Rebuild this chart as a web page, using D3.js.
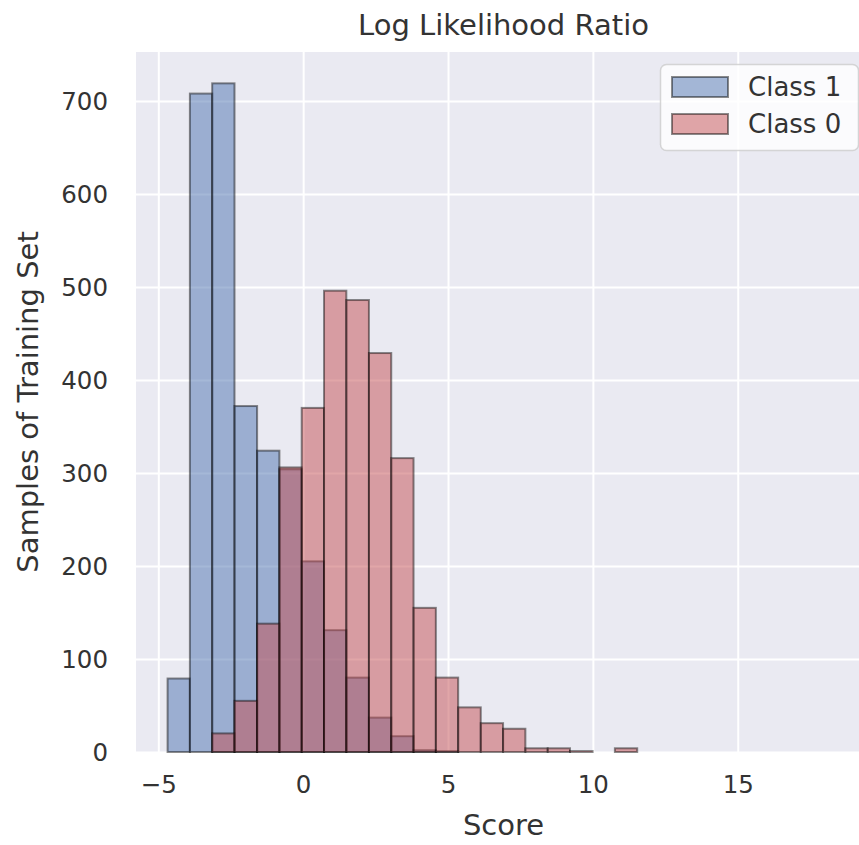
<!DOCTYPE html>
<html>
<head>
<meta charset="utf-8">
<script src="https://cdn.jsdelivr.net/npm/d3@7/dist/d3.min.js"></script>
<style>
  html, body { margin: 0; padding: 0; background: #ffffff; }
  svg { display: block; font-family: "DejaVu Sans", sans-serif; }
</style>
</head>
<body>
<svg id="chart" width="859" height="845"></svg>
<script>
// Histogram bin edges shared by both classes (score units)
const binEdges = [-4.68, -3.91, -3.14, -2.37, -1.59, -0.82, -0.05, 0.72, 1.49, 2.27,
                  3.04, 3.81, 4.58, 5.35, 6.13, 6.90, 7.67, 8.44, 9.21, 9.99, 10.76, 11.53];

// Sample counts per bin
const class1Counts = [79, 708, 719, 372, 324, 304, 205, 131, 80, 37, 17, 2, 1, 0, 0, 0, 0, 0, 0, 0, 0];
const class0Counts = [0, 0, 20, 55, 138, 306, 370, 496, 486, 429, 316, 155, 80, 48, 31, 25, 4, 4, 1, 0, 4];

const seriesNames = ["Class 1", "Class 0"];
const seriesColors = ["#4C72B0", "#C44E52"];

const xTicks = [-5, 0, 5, 10, 15];
const yTicks = [0, 100, 200, 300, 400, 500, 600, 700];

const xDomain = [-5.77, 19.6];
const yDomain = [0, 752.7];

const titleText = "Log Likelihood Ratio";
const xLabel = "Score";
const yLabel = "Samples of Training Set";

// Layout
const plot = { left: 136, right: 871, top: 52, bottom: 752 };
const textColor = "#333333";

const svg = d3.select("#chart");

const x = d3.scaleLinear().domain(xDomain).range([plot.left, plot.right]);
const y = d3.scaleLinear().domain(yDomain).range([plot.bottom, plot.top]);

// Plot background
svg.append("rect")
  .attr("x", plot.left).attr("y", plot.top)
  .attr("width", plot.right - plot.left).attr("height", plot.bottom - plot.top)
  .attr("fill", "#EAEAF2");

// Grid via axes with full-length ticks
const xGrid = d3.axisBottom(x).tickValues(xTicks).tickSize(-(plot.bottom - plot.top)).tickFormat("");
const yGrid = d3.axisLeft(y).tickValues(yTicks).tickSize(-(plot.right - plot.left)).tickFormat("");

svg.append("g").attr("transform", `translate(0,${plot.bottom})`).call(xGrid)
  .call(g => g.select(".domain").remove())
  .call(g => g.selectAll("line").attr("stroke", "#ffffff").attr("stroke-width", 2));
svg.append("g").attr("transform", `translate(${plot.left},0)`).call(yGrid)
  .call(g => g.select(".domain").remove())
  .call(g => g.selectAll("line").attr("stroke", "#ffffff").attr("stroke-width", 2));

// Histogram bars
function drawBars(counts, color) {
  const bins = counts.map((c, i) => ({ x0: binEdges[i], x1: binEdges[i + 1], count: c }))
    .filter(d => d.count > 0);
  svg.append("g").selectAll("rect").data(bins).join("rect")
    .attr("x", d => x(d.x0))
    .attr("width", d => x(d.x1) - x(d.x0))
    .attr("y", d => y(d.count))
    .attr("height", d => y(0) - y(d.count))
    .attr("fill", color).attr("fill-opacity", 0.5)
    .attr("stroke", "#000000").attr("stroke-opacity", 0.45).attr("stroke-width", 2);
}
drawBars(class1Counts, seriesColors[0]);
drawBars(class0Counts, seriesColors[1]);

// Tick labels
const xAxis = d3.axisBottom(x).tickValues(xTicks).tickSize(0).tickPadding(0)
  .tickFormat(d => d < 0 ? "\u2212" + Math.abs(d) : String(d));
svg.append("g").attr("transform", `translate(0,${plot.bottom})`).call(xAxis)
  .call(g => g.select(".domain").remove())
  .call(g => g.selectAll("text")
    .attr("y", 41).attr("dy", null)
    .attr("fill", textColor).attr("font-size", 24.5).attr("font-family", "DejaVu Sans"));

const yAxis = d3.axisLeft(y).tickValues(yTicks).tickSize(0).tickPadding(0);
svg.append("g").attr("transform", `translate(${plot.left},0)`).call(yAxis)
  .call(g => g.select(".domain").remove())
  .call(g => g.selectAll("text")
    .attr("x", -28).attr("dy", "0.36em")
    .attr("fill", textColor).attr("font-size", 24.5).attr("font-family", "DejaVu Sans"));

// Title and axis labels
svg.append("text")
  .attr("x", (plot.left + plot.right) / 2).attr("y", 35)
  .attr("text-anchor", "middle").attr("fill", textColor).attr("font-size", 29)
  .text(titleText);

svg.append("text")
  .attr("x", (plot.left + plot.right) / 2).attr("y", 835)
  .attr("text-anchor", "middle").attr("fill", textColor).attr("font-size", 29)
  .text(xLabel);

svg.append("text")
  .attr("transform", `translate(38,${(plot.top + plot.bottom) / 2}) rotate(-90)`)
  .attr("text-anchor", "middle").attr("fill", textColor).attr("font-size", 29)
  .text(yLabel);

// Legend
const legend = svg.append("g");
legend.append("rect")
  .attr("x", 660.5).attr("y", 64.5).attr("width", 198).attr("height", 86)
  .attr("rx", 6).attr("ry", 6)
  .attr("fill", "#ffffff").attr("fill-opacity", 0.8)
  .attr("stroke", "#cccccc").attr("stroke-opacity", 0.8).attr("stroke-width", 1.5);

const legendRows = seriesNames.map((name, i) => ({ name, color: seriesColors[i] }));
const rowY = d3.scalePoint().domain(seriesNames).range([87, 124]);
legend.selectAll("g.row").data(legendRows).join("g").attr("class", "row")
  .each(function (d) {
    const g = d3.select(this);
    g.append("rect")
      .attr("x", 672).attr("y", rowY(d.name) - 10).attr("width", 56).attr("height", 20)
      .attr("fill", d.color).attr("fill-opacity", 0.5)
      .attr("stroke", "#000000").attr("stroke-opacity", 0.45).attr("stroke-width", 2);
    g.append("text")
      .attr("x", 748).attr("y", rowY(d.name)).attr("dy", "0.36em")
      .attr("fill", textColor).attr("font-size", 26)
      .text(d.name);
  });
</script>
</body>
</html>
